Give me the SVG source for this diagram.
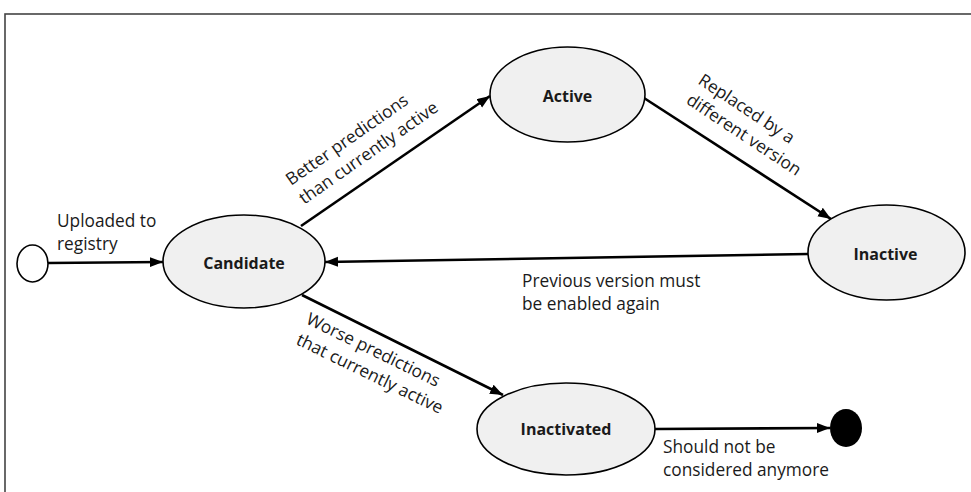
<svg xmlns="http://www.w3.org/2000/svg" width="971" height="492" viewBox="0 0 971 492">
  <style>
    .state { fill: #f0f0f0; stroke: #000; stroke-width: 1.6; }
    .name { font-family: "Open Sans", "Liberation Sans", sans-serif; font-weight: bold; font-size: 16px; fill: #1a1a1a; text-anchor: middle; }
    .lbl { font-family: "Open Sans", "Liberation Sans", sans-serif; font-size: 17.3px; fill: #1a1a1a; }
    .edge { fill: none; stroke: #000; stroke-width: 2.6; marker-end: url(#arrow); }
  </style>
  <defs>
    <marker id="arrow" markerUnits="userSpaceOnUse" markerWidth="14" markerHeight="11" refX="13" refY="5" orient="auto">
      <path d="M0,0 L13,5 L0,10 Z" fill="#000"/>
    </marker>
  </defs>

  <!-- page frame -->
  <rect x="5" y="14" width="990" height="500" fill="#fff" stroke="#444" stroke-width="1.6"/>

  <g id="connectors">
    <path class="edge" d="M48,263 L163,262"/>
    <path class="edge" d="M301,226 L490,96"/>
    <path class="edge" d="M644,98 L831,219"/>
    <path class="edge" d="M808,254 L325,262"/>
    <path class="edge" d="M302,295 L503,395"/>
    <path class="edge" d="M655,429 L830,428"/>
  </g>

  <g id="start">
    <ellipse cx="32.5" cy="263.5" rx="15.5" ry="18.5" fill="#fff" stroke="#000" stroke-width="1.6"/>
  </g>
  <g id="candidate">
    <ellipse class="state" cx="244" cy="261.5" rx="81" ry="46.5"/>
    <text class="name" x="244" y="269">Candidate</text>
  </g>
  <g id="active">
    <ellipse class="state" cx="567.5" cy="94.5" rx="77.5" ry="47.5"/>
    <text class="name" x="567.5" y="102">Active</text>
  </g>
  <g id="inactive">
    <ellipse class="state" cx="886.5" cy="252.5" rx="78.5" ry="47.5"/>
    <text class="name" x="885.5" y="260">Inactive</text>
  </g>
  <g id="inactivated">
    <ellipse class="state" cx="566" cy="429" rx="89" ry="46"/>
    <text class="name" x="566" y="435">Inactivated</text>
  </g>
  <g id="end">
    <ellipse cx="846" cy="428" rx="16" ry="19" fill="#000"/>
  </g>

  <g id="labels">
    <text class="lbl" x="57" y="227">Uploaded to</text>
    <text class="lbl" x="57" y="250">registry</text>

    <g transform="translate(291,186) rotate(-35)">
      <text class="lbl" x="0" y="0">Better predictions</text>
      <text class="lbl" x="0" y="23">than currently active</text>
    </g>

    <g transform="translate(697,83) rotate(33.5)">
      <text class="lbl" x="0" y="0">Replaced by a</text>
      <text class="lbl" x="1" y="23">different version</text>
    </g>

    <text class="lbl" x="522" y="287">Previous version must</text>
    <text class="lbl" x="522" y="310">be enabled again</text>

    <g transform="translate(305,323) rotate(26)">
      <text class="lbl" x="0" y="0">Worse predictions</text>
      <text class="lbl" x="0" y="23">that currently active</text>
    </g>

    <text class="lbl" x="663" y="453">Should not be</text>
    <text class="lbl" x="663" y="476">considered anymore</text>
  </g>
</svg>
